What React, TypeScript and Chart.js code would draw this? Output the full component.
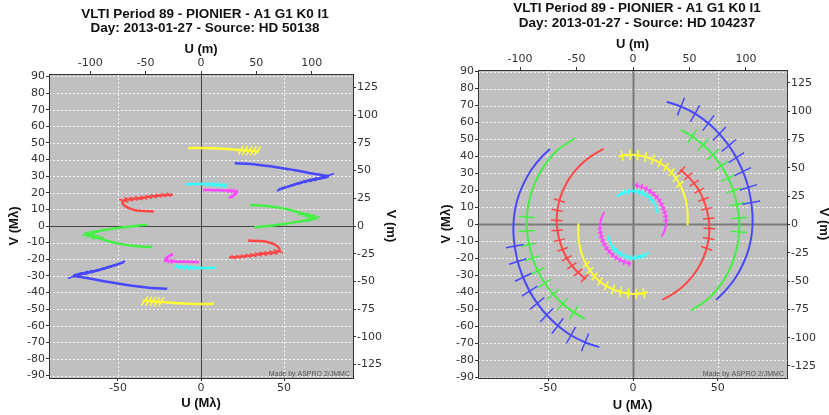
import React, { useEffect, useRef } from 'react';
import { Chart, registerables } from 'chart.js';
Chart.register(...registerables);

type P = [number, number];

// ---------- Left panel: HD 50138 (upper-half tracks, the other half is the point-symmetric mirror) ----------
const L_TITLE = ['VLTI Period 89 - PIONIER - A1 G1 K0 I1', 'Day: 2013-01-27 - Source: HD 50138'];
const L_BLUE_TRACK: P[] = [[20.3, 37.8], [30, 37.3], [40, 36.1], [50, 34.6], [60, 33], [67, 31.6], [73, 30.6], [76.5, 30], [74, 29], [70, 28.4], [65.5, 27.5], [60, 26.1], [55.4, 24.7], [50, 23], [46.4, 21.7]];
const L_BLUE_OBS: P[] = [[75.5, 29.8], [72.5, 29], [69.5, 28.3], [66, 27.6], [62.5, 26.7], [59, 25.8], [55.5, 24.7], [52, 23.6], [48.5, 22.4]];
const L_GREEN_TRACK: P[] = [[29.3, 12.7], [40, 12], [49.4, 10.6], [55, 9.3], [60, 7.8], [65, 6.3], [68.5, 5], [66, 3.8], [62, 3.1], [57.5, 2.4], [52, 1.5], [45.4, 0.6], [38.5, -0.2], [32.3, -0.8]];
const L_GREEN_OBS: P[] = [[62, 7.2], [65, 6.2], [67.5, 5.3], [66.5, 4], [63.5, 3.3]];
const L_RED_TRACK: P[] = [[28.3, -8.8], [34, -9], [39.4, -9.5], [43.5, -10.8], [46.3, -12.5], [47.4, -14.5], [45.5, -15.7], [42, -16.2], [38, -16.6], [33, -17.3], [27.3, -18.1], [22, -18.6], [16.9, -18.9]];
const L_RED_OBS: P[] = [[46.5, -15.2], [43.5, -16], [40.5, -16.4], [37.5, -16.8], [34.5, -17.1], [31.5, -17.5], [28.5, -17.9], [25.5, -18.3], [22.5, -18.6], [19.5, -18.8]];
const L_YELLOW_TRACK: P[] = [[-7.8, 46.8], [0, 47], [8, 46.8], [16, 46.3], [23, 45.8], [29, 45.4], [35, 45]];
const L_YELLOW_OBS: P[] = [[24, 45.7], [26.5, 45.6], [29, 45.4], [31.5, 45.3], [34, 45.1]];
const L_MAGENTA_TRACK: P[] = [[1.2, 21.7], [6, 21.6], [11, 21.5], [16, 21.3], [19.5, 21], [21.3, 20.2], [20.6, 18.9], [18.7, 17.8], [16.9, 17.1]];
const L_MAGENTA_OBS: P[] = [[17, 21.3], [19, 21.1], [20.8, 20.5], [21, 19.5], [19.8, 18.4], [18, 17.5]];
const L_CYAN_TRACK: P[] = [[-9.2, 25.1], [-4, 25.3], [0, 25.3], [5, 25.2], [10, 24.9], [15, 24.4]];
const L_CYAN_OBS: P[] = [[4, 25.2], [6.8, 25.1], [9.6, 24.9], [12.4, 24.7], [15, 24.4]];

// ---------- Right panel: HD 104237 ----------
const R_TITLE = ['VLTI Period 89 - PIONIER - A1 G1 K0 I1', 'Day: 2013-01-27 - Source: HD 104237'];
const R_BLUE_TRACK: P[] = [[19.9, 72.2], [28.1, 69.5], [37.4, 64.8], [45.7, 58.5], [52.9, 51.1], [59, 42.8], [63.7, 33.9], [67.3, 24.5], [69.5, 14.8], [70.6, 4.9], [70.2, -4.9], [68.3, -14.5], [64.8, -23.6], [60.1, -32], [54.2, -39.4], [49, -44.4]];
const R_BLUE_OBS: P[] = [[28.3, 69.4], [36.6, 65.2], [44.5, 59.7], [51, 53.4], [56.6, 46.5], [61, 39.3], [64.8, 31.1], [68, 21.8], [69.8, 12.8]];
const R_GREEN_TRACK: P[] = [[28.4, 55.7], [36.7, 50.6], [44.2, 44.2], [50.6, 36.7], [55.7, 28.4], [59.4, 19.3], [61.7, 9.8], [62.8, 0], [62.1, -9.8], [59.8, -19.4], [56, -28.5], [50.7, -36.8], [44.1, -44.1], [34.2, -50.7]];
const R_GREEN_OBS: P[] = [[35, 51.9], [41.5, 46.9], [47.2, 41.1], [52.2, 34.6], [56.3, 27.4], [59.4, 19.9], [61.5, 11.9], [62.5, 3.8], [62.6, -4.4]];
const R_RED_TRACK: P[] = [[27.9, 32.2], [33, 27.7], [37.8, 21.9], [41.4, 15.1], [43.8, 7.7], [45, 0], [44.7, -7.9], [43, -15.7], [39.9, -23.1], [35.6, -29.9], [30.1, -35.9], [23.6, -40.9], [17.3, -44.4]];
const R_RED_OBS: P[] = [[28.6, 31.7], [32.5, 28.3], [36.1, 24.3], [39.1, 19.9], [41.6, 14.7], [43.4, 9.2], [44.7, 3.5], [45, -2.4], [44.6, -8.3], [43.5, -14.1]];
const R_YELLOW_TRACK: P[] = [[-8.7, 39.9], [-3.6, 40.8], [1.4, 40.9], [7, 39.9], [13.6, 37.4], [19.5, 33.7], [24.2, 28.8], [27.7, 23.3], [30.2, 17.5], [31.7, 11.5], [32.3, 5.7], [32.2, 0], [32.1, -0.6]];
const R_YELLOW_OBS: P[] = [[-6.4, 40.4], [-1.8, 41], [2.8, 40.7], [7.4, 39.8], [11.7, 38.3], [15.8, 36.2], [19.5, 33.7], [22.7, 30.6], [25.4, 27.2], [27.6, 23.6]];
const R_MAGENTA_TRACK: P[] = [[1.2, 23.2], [5.8, 21.8], [10, 19.6], [13.5, 16.6], [16.2, 13.1], [18.1, 9.2], [19.2, 5.2], [19.5, 1], [18.9, -3], [16.9, -7.2]];
const R_MAGENTA_OBS: P[] = [[2.4, 23.1], [5.2, 22.3], [7.7, 21], [10, 19.6], [12.1, 18], [14, 16.1], [15.6, 14.1], [16.9, 11.8], [17.9, 9.5], [18.8, 7.2], [19.2, 4.8], [19.5, 2.4]];
const R_CYAN_TRACK: P[] = [[-9.5, 16.5], [-6.6, 18.2], [-3.4, 19.3], [0, 19.7], [3.4, 19.2], [6.5, 17.9], [9.3, 16.1], [11.6, 13.8], [13.3, 11.1], [14.2, 8.2], [14.5, 6.6]];
const R_CYAN_OBS: P[] = [[11.6, 13.8], [10.2, 15.2], [8.8, 16.5], [7.1, 17.6], [5.3, 18.6], [3.4, 19.2], [1.4, 19.7], [-0.7, 19.7], [-2.7, 19.4], [-4.7, 18.9], [-6.6, 18.2]];

// tick labels
const U_TICKS_MLAMBDA = [-50, 0, 50];
const U_TICKS_M = [-100, -50, 0, 50, 100];
const V_TICKS_MLAMBDA = [-90, -80, -70, -60, -50, -40, -30, -20, -10, 0, 10, 20, 30, 40, 50, 60, 70, 80, 90];
const V_TICKS_M = [-125, -100, -75, -50, -25, 0, 25, 50, 75, 100, 125];

// axis ranges (U, V in M-lambda; metres = M-lambda * 1.5)
const LAMBDA_UM = 1.5;
const L_U_RANGE: P = [-91.5, 91.5];
const L_V_RANGE: P = [-91.5, 91.5];
const R_U_RANGE: P = [-91.5, 90.9];
const R_V_RANGE: P = [-90.4, 90.9];

const BLUE = '#4848ff';
const GREEN = '#44f044';
const RED = '#ff4848';
const YELLOW = '#ffff33';
const MAGENTA = '#ff48ff';
const CYAN = '#38ffff';

const TICK_FONT = "'DejaVu Sans', sans-serif";
const TITLE_FONT = "'Liberation Sans', Arial, sans-serif";

interface Baseline { color: string; track: P[]; obs: P[] }

interface PanelCfg {
  title: string[];
  baselines: Baseline[];
  uRange: P;
  vRange: P;
  width: number;
  padTop: number;
  yW: number; y2W: number; x2H: number; xH: number;
  yTitlePad: number; y2TitlePad: number; x2TitlePad: number; xTitlePad: number;
  titleX: number; titleY: [number, number];
  hatch: number;
  trackWidth: number;
  zeroColor: string; zeroWidth: number;
}

function buildDatasets(cfg: PanelCfg) {
  const ds: any[] = [];
  for (const b of cfg.baselines) {
    for (const s of [1, -1]) {
      ds.push({
        data: b.track.map(([u, v]) => ({ x: s * u, y: s * v })),
        borderColor: b.color, borderWidth: cfg.trackWidth, showLine: true,
        pointRadius: 0, tension: 0.35, fill: false,
      });
    }
    const segs: any[] = [];
    for (const [u, v] of b.obs) {
      for (const s of [1, -1]) {
        segs.push({ x: s * u * (1 - cfg.hatch), y: s * v * (1 - cfg.hatch) });
        segs.push({ x: s * u * (1 + cfg.hatch), y: s * v * (1 + cfg.hatch) });
        segs.push({ x: null, y: null });
      }
    }
    ds.push({ data: segs, borderColor: b.color, borderWidth: 1.5, showLine: true, pointRadius: 0, spanGaps: false, fill: false });
  }
  return ds;
}

function axis(pos: string, min: number, max: number, tickValues: number[], title: string, titlePad: any, fit: (s: any) => void) {
  return {
    type: 'linear' as const,
    position: pos,
    min, max,
    grid: { drawOnChartArea: false, drawTicks: true, tickLength: 3, tickColor: '#333' },
    border: { display: true, color: '#333', width: 1 },
    ticks: { font: { family: TICK_FONT, size: 11 }, color: '#333', padding: 1, maxRotation: 0, autoSkip: false },
    afterBuildTicks: (s: any) => { s.ticks = tickValues.filter((v) => v >= min && v <= max).map((v) => ({ value: v })); },
    title: { display: true, text: title, font: { family: TITLE_FONT, size: 13, weight: 'bold' as const }, color: '#111', padding: titlePad },
    afterFit: fit,
  };
}

function makeChart(canvas: HTMLCanvasElement, cfg: PanelCfg) {
  const bgPlugin = {
    id: 'uvBackground',
    beforeDraw(chart: any) {
      const { ctx, chartArea: a, scales } = chart;
      ctx.save();
      ctx.fillStyle = '#c0c0c0';
      ctx.fillRect(a.left, a.top, a.right - a.left, a.bottom - a.top);
      ctx.strokeStyle = 'rgba(255,255,255,0.8)';
      ctx.lineWidth = 1;
      ctx.setLineDash([2, 2]);
      for (const t of scales.x.ticks) {
        if (t.value === 0) continue;
        const px = Math.round(scales.x.getPixelForValue(t.value)) + 0.5;
        ctx.beginPath(); ctx.moveTo(px, a.top); ctx.lineTo(px, a.bottom); ctx.stroke();
      }
      for (const t of scales.y.ticks) {
        if (t.value === 0) continue;
        const py = Math.round(scales.y.getPixelForValue(t.value)) + 0.5;
        ctx.beginPath(); ctx.moveTo(a.left, py); ctx.lineTo(a.right, py); ctx.stroke();
      }
      ctx.setLineDash([]);
      ctx.strokeStyle = cfg.zeroColor;
      ctx.lineWidth = cfg.zeroWidth;
      const x0 = Math.round(scales.x.getPixelForValue(0)) + 0.5;
      const y0 = Math.round(scales.y.getPixelForValue(0)) + 0.5;
      ctx.beginPath(); ctx.moveTo(x0, a.top); ctx.lineTo(x0, a.bottom); ctx.stroke();
      ctx.beginPath(); ctx.moveTo(a.left, y0); ctx.lineTo(a.right, y0); ctx.stroke();
      ctx.restore();
    },
    afterDraw(chart: any) {
      const { ctx, chartArea: a } = chart;
      ctx.save();
      ctx.fillStyle = '#111';
      ctx.font = `bold 13.5px ${TITLE_FONT}`;
      ctx.textAlign = 'center';
      ctx.textBaseline = 'middle';
      ctx.fillText(cfg.title[0], cfg.titleX, cfg.titleY[0]);
      ctx.fillText(cfg.title[1], cfg.titleX, cfg.titleY[1]);
      ctx.font = `7px ${TITLE_FONT}`;
      ctx.fillStyle = '#555';
      ctx.textAlign = 'right';
      ctx.textBaseline = 'alphabetic';
      ctx.fillText('Made by ASPRO 2/JMMC', a.right - 3, a.bottom - 2);
      ctx.restore();
    },
  };

  const x = axis('bottom', cfg.uRange[0], cfg.uRange[1], U_TICKS_MLAMBDA, 'U (M\u03bb)', { top: 0, bottom: cfg.xTitlePad }, (s) => { s.height = cfg.xH; });
  const x2 = axis('top', cfg.uRange[0] * LAMBDA_UM, cfg.uRange[1] * LAMBDA_UM, U_TICKS_M, 'U (m)', { top: cfg.x2TitlePad, bottom: 0 }, (s) => { s.height = cfg.x2H; });
  const y = axis('left', cfg.vRange[0], cfg.vRange[1], V_TICKS_MLAMBDA, 'V (M\u03bb)', { top: cfg.yTitlePad, bottom: 0 }, (s) => { s.width = cfg.yW; });
  const y2 = axis('right', cfg.vRange[0] * LAMBDA_UM, cfg.vRange[1] * LAMBDA_UM, V_TICKS_M, 'V (m)', { top: cfg.y2TitlePad, bottom: 0 }, (s) => { s.width = cfg.y2W; });

  return new Chart(canvas, {
    type: 'scatter',
    data: { datasets: buildDatasets(cfg) },
    options: {
      animation: false,
      responsive: false,
      events: [],
      layout: { padding: { top: cfg.padTop, left: 0, right: 0, bottom: 0 } },
      plugins: { legend: { display: false }, tooltip: { enabled: false }, title: { display: false } },
      scales: { x, x2, y, y2 } as any,
    },
    plugins: [bgPlugin],
  });
}

const LEFT: PanelCfg = {
  title: L_TITLE,
  baselines: [
    { color: BLUE, track: L_BLUE_TRACK, obs: L_BLUE_OBS },
    { color: GREEN, track: L_GREEN_TRACK, obs: L_GREEN_OBS },
    { color: RED, track: L_RED_TRACK, obs: L_RED_OBS },
    { color: YELLOW, track: L_YELLOW_TRACK, obs: L_YELLOW_OBS },
    { color: MAGENTA, track: L_MAGENTA_TRACK, obs: L_MAGENTA_OBS },
    { color: CYAN, track: L_CYAN_TRACK, obs: L_CYAN_OBS },
  ],
  uRange: L_U_RANGE, vRange: L_V_RANGE,
  width: 415, padTop: 38, yW: 49, y2W: 62, x2H: 36, xH: 37,
  yTitlePad: 7, y2TitlePad: 17, x2TitlePad: 4, xTitlePad: 4,
  titleX: 205, titleY: [14, 28.5],
  hatch: 0.06, trackWidth: 2.5,
  zeroColor: '#444', zeroWidth: 1,
};

const RIGHT: PanelCfg = {
  title: R_TITLE,
  baselines: [
    { color: BLUE, track: R_BLUE_TRACK, obs: R_BLUE_OBS },
    { color: GREEN, track: R_GREEN_TRACK, obs: R_GREEN_OBS },
    { color: RED, track: R_RED_TRACK, obs: R_RED_OBS },
    { color: YELLOW, track: R_YELLOW_TRACK, obs: R_YELLOW_OBS },
    { color: MAGENTA, track: R_MAGENTA_TRACK, obs: R_MAGENTA_OBS },
    { color: CYAN, track: R_CYAN_TRACK, obs: R_CYAN_OBS },
  ],
  uRange: R_U_RANGE, vRange: R_V_RANGE,
  width: 430, padTop: 34, yW: 63, y2W: 58, x2H: 36, xH: 37,
  yTitlePad: 24, y2TitlePad: 14, x2TitlePad: 3, xTitlePad: 2,
  titleX: 222, titleY: [8.5, 23.5],
  hatch: 0.075, trackWidth: 2,
  zeroColor: '#7a7a7a', zeroWidth: 2,
};

function Panel({ cfg, left }: { cfg: PanelCfg; left: number }) {
  const ref = useRef<HTMLCanvasElement>(null);
  useEffect(() => {
    if (!ref.current) return;
    const chart = makeChart(ref.current, cfg);
    return () => chart.destroy();
  }, [cfg]);
  return (
    <canvas
      ref={ref}
      width={cfg.width}
      height={415}
      style={{ position: 'absolute', left, top: 0, width: cfg.width, height: 415, display: 'block' }}
    />
  );
}

export default function App() {
  return (
    <div style={{ position: 'fixed', left: 0, top: 0, width: 829, height: 415, overflow: 'hidden', background: '#fff' }}>
      <Panel cfg={LEFT} left={0} />
      <Panel cfg={RIGHT} left={415} />
    </div>
  );
}
